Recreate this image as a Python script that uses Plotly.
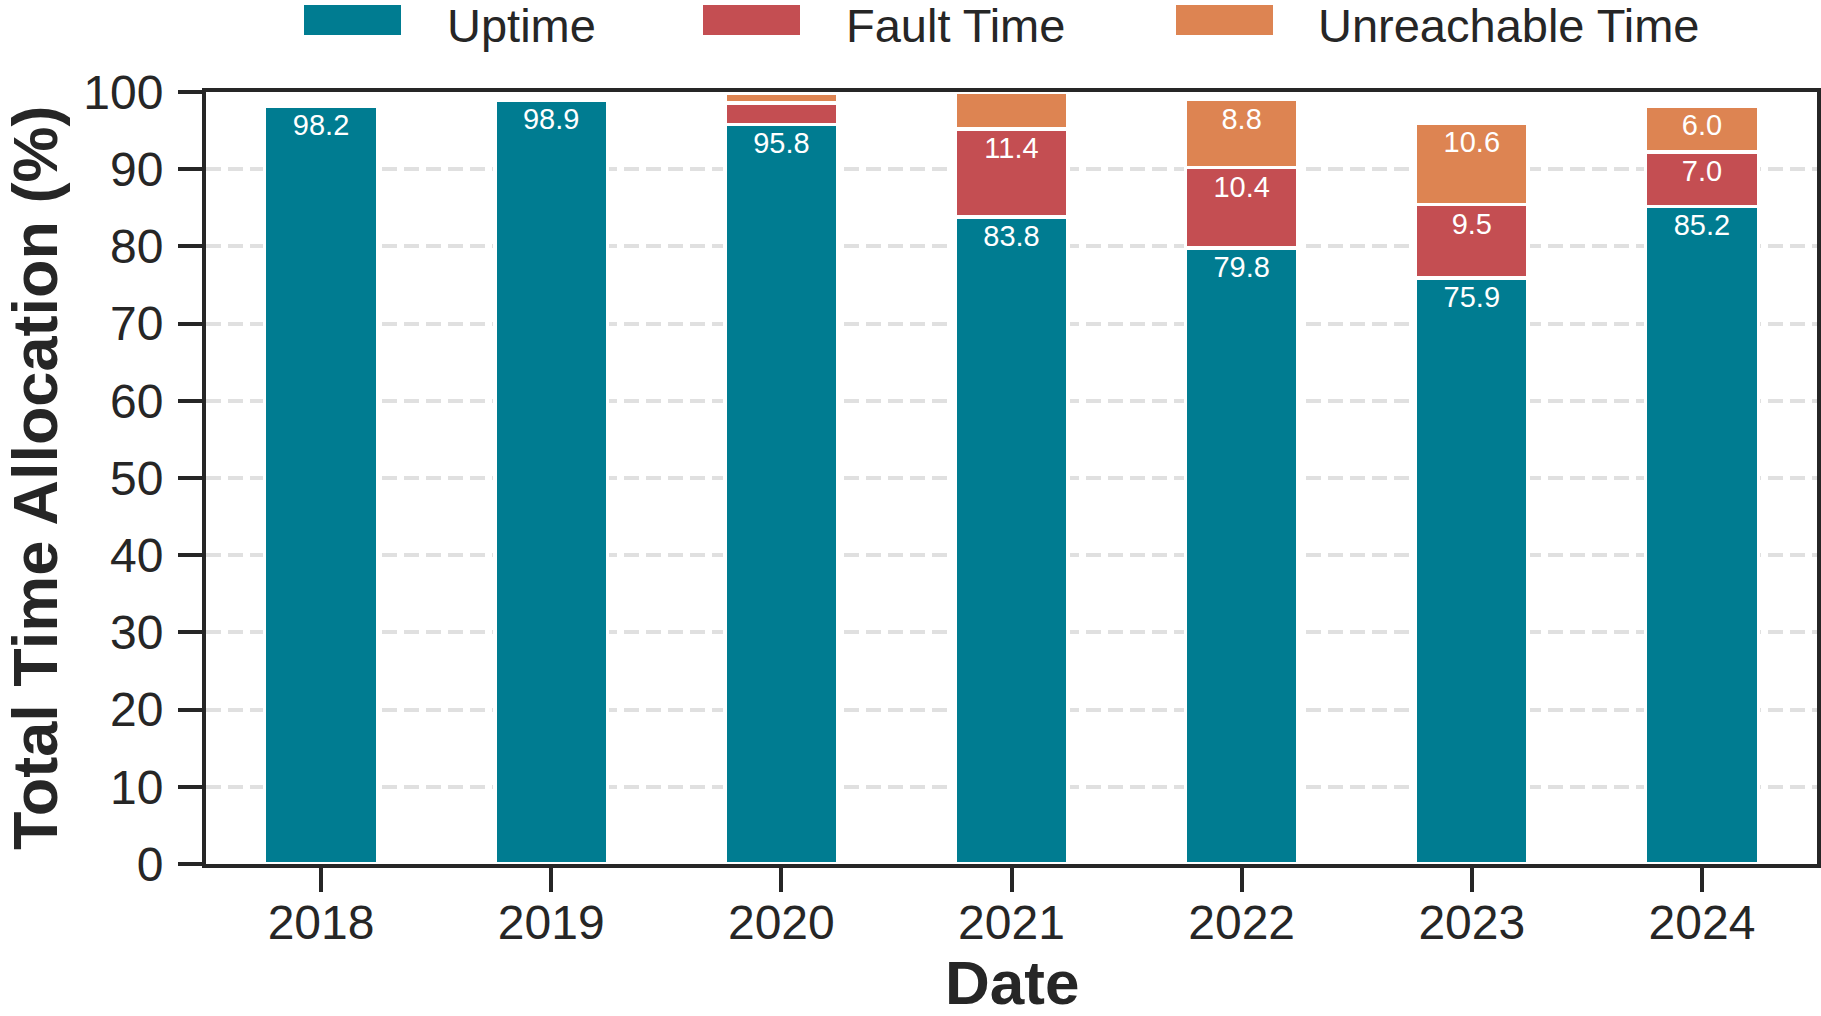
import plotly.graph_objects as go

# ---- data ----
years = ["2018", "2019", "2020", "2021", "2022", "2023", "2024"]
uptime = [98.2, 98.9, 95.8, 83.8, 79.8, 75.9, 85.2]
fault_time = [0.5, 0.0, 2.8, 11.4, 10.4, 9.5, 7.0]
unreachable_time = [0.5, 0.0, 1.2, 4.8, 8.8, 10.6, 6.0]
y_ticks = [0, 10, 20, 30, 40, 50, 60, 70, 80, 90, 100]
label_min = 5.0

series = [
    ("Uptime", uptime, "#007C91"),
    ("Fault Time", fault_time, "#C44E52"),
    ("Unreachable Time", unreachable_time, "#DD8452"),
]

FONT = "Arial, 'Liberation Sans', Helvetica, sans-serif"
DARK = "#262626"

W, H = 1821, 1016
ML, MR, MT, MB = 206, 4, 92, 152
PW = W - ML - MR
PH = H - MT - MB


def px2x(px):
    return (px - ML) / PW


def px2y(py):
    return (H - MB - py) / PH


fig = go.Figure()
for name, vals, col in series:
    fig.add_trace(go.Bar(
        x=years, y=vals, name=name,
        marker=dict(color=col, line=dict(color="white", width=3.5)),
        width=0.49,
        text=[f"{v:.1f}" if v >= label_min else "" for v in vals],
        textposition="inside",
        insidetextanchor="end",
        insidetextfont=dict(color="white", size=29, family=FONT),
        textangle=0,
        cliponaxis=True,
        showlegend=False,
        hoverinfo="skip",
    ))

# custom legend (wide colour patches like the reference)
legend_items = [(304, 445), (703, 844), (1176, 1316)]
shapes = []
annotations = []
for (name, vals, col), (rx, tx) in zip(series, legend_items):
    shapes.append(dict(type="rect", xref="paper", yref="paper",
                       x0=px2x(rx), x1=px2x(rx + 97), y0=px2y(35), y1=px2y(5),
                       fillcolor=col, line=dict(width=0)))
    annotations.append(dict(xref="paper", yref="paper", x=px2x(tx), y=px2y(26),
                            text=name, showarrow=False, xanchor="left", yanchor="middle",
                            font=dict(size=47, color=DARK, family=FONT)))

# axis titles
annotations.append(dict(xref="paper", yref="paper", x=0.5, y=px2y(982),
                        text="<b>Date</b>", showarrow=False,
                        xanchor="center", yanchor="middle",
                        font=dict(size=62, color=DARK, family=FONT)))
annotations.append(dict(xref="paper", yref="paper", x=px2x(35), y=0.5,
                        text="<b>Total Time Allocation (%)</b>", showarrow=False,
                        textangle=-90, xanchor="center", yanchor="middle",
                        font=dict(size=63, color=DARK, family=FONT)))

fig.update_layout(
    width=W, height=H,
    margin=dict(l=ML, r=MR, t=MT, b=MB, autoexpand=False),
    barmode="stack",
    plot_bgcolor="white", paper_bgcolor="white",
    font=dict(family=FONT, color=DARK, size=48),
    shapes=shapes,
    annotations=annotations,
    xaxis=dict(
        range=[-0.5, 6.5],
        showline=True, linewidth=4, linecolor=DARK, mirror=True,
        ticks="outside", ticklen=24, tickwidth=4, tickcolor=DARK,
        tickfont=dict(size=48, color=DARK, family=FONT),
        showgrid=False, zeroline=False,
        ticklabelstandoff=-11,
    ),
    yaxis=dict(
        range=[0, 100],
        tickvals=y_ticks,
        showline=True, linewidth=4, linecolor=DARK, mirror=True,
        ticks="outside", ticklen=24, tickwidth=4, tickcolor=DARK,
        tickfont=dict(size=48, color=DARK, family=FONT),
        showgrid=True, gridcolor="#E0E0E0", gridwidth=3.5, griddash="15px,7px",
        zeroline=False,
        ticklabelstandoff=5,
    ),
)

fig.write_html("out.html", config={"displayModeBar": False},
               post_script="document.body.style.margin='0';")
